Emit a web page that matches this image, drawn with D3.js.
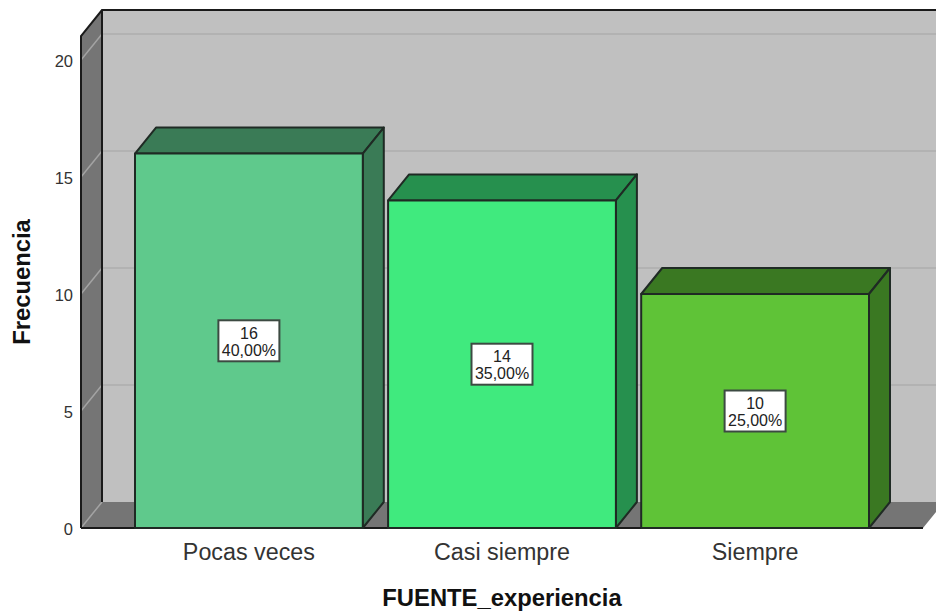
<!DOCTYPE html>
<html>
<head>
<meta charset="utf-8">
<script src="https://cdn.jsdelivr.net/npm/d3@7"></script>
<style>
  html, body { margin: 0; padding: 0; background: #fff; }
  svg { display: block; }
  text { font-family: "Liberation Sans", Arial, sans-serif; }
</style>
</head>
<body>
<script>
const categories = ["Pocas veces", "Casi siempre", "Siempre"];
const counts = [16, 14, 10];
const percents = ["40,00%", "35,00%", "25,00%"];
const frontColors = ["#5fc98c", "#40ea7e", "#5fc337"];
const shadeColors = ["#3a7b56", "#26904e", "#3a7822"];
const yTicks = [0, 5, 10, 15, 20];

const width = 936;
const height = 612;
const depthX = 21;
const depthY = 26;

const svg = d3.select("body").append("svg").attr("width", width).attr("height", height);

const x = d3.scaleBand().domain(categories).range([135, 869]).paddingInner(0.1);
const y = d3.scaleLinear().domain([0, 20]).range([528, 60]);

const plotLeft = 81;
const plotRight = 923;
const plotTop = 36;
const plotBottom = y(0);

const poly = (points) => points.map((p) => p.join(",")).join(" ");

// Walls ///////////////////////////////////////////////////////////////////

const walls = svg.append("g");

walls.append("rect")
  .attr("x", plotLeft + depthX)
  .attr("y", plotTop - depthY)
  .attr("width", plotRight - plotLeft)
  .attr("height", plotBottom - plotTop)
  .attr("fill", "#c0c0c0");

walls.append("polygon")
  .attr("points", poly([
    [plotLeft, plotTop],
    [plotLeft + depthX, plotTop - depthY],
    [plotLeft + depthX, plotBottom - depthY],
    [plotLeft, plotBottom],
  ]))
  .attr("fill", "#757575");

walls.append("polygon")
  .attr("points", poly([
    [plotLeft, plotBottom],
    [plotLeft + depthX, plotBottom - depthY],
    [plotRight + depthX, plotBottom - depthY],
    [plotRight, plotBottom],
  ]))
  .attr("fill", "#757575");

// Grid ////////////////////////////////////////////////////////////////////

const grid = svg.append("g");

grid.selectAll("line.back")
  .data(yTicks.filter((d) => d > 0))
  .join("line")
  .attr("class", "back")
  .attr("x1", plotLeft + depthX)
  .attr("x2", plotRight + depthX)
  .attr("y1", (d) => y(d) - depthY)
  .attr("y2", (d) => y(d) - depthY)
  .attr("stroke", "#b2b2b2")
  .attr("stroke-width", 2);

grid.selectAll("line.side")
  .data(yTicks)
  .join("line")
  .attr("class", "side")
  .attr("x1", plotLeft)
  .attr("x2", plotLeft + depthX)
  .attr("y1", (d) => y(d))
  .attr("y2", (d) => y(d) - depthY)
  .attr("stroke", "#a3a3a3")
  .attr("stroke-width", 1.5);

// Frame ///////////////////////////////////////////////////////////////////

const frame = svg.append("g")
  .attr("fill", "none")
  .attr("stroke", "#1a1a1a")
  .attr("stroke-width", 2);

frame.append("polyline")
  .attr("points", poly([
    [plotLeft, plotBottom],
    [plotLeft, plotTop],
    [plotLeft + depthX, plotTop - depthY],
    [plotRight + depthX, plotTop - depthY],
  ]));

frame.append("line")
  .attr("x1", plotLeft + depthX)
  .attr("x2", plotLeft + depthX)
  .attr("y1", plotTop - depthY)
  .attr("y2", plotBottom - depthY);

frame.append("line")
  .attr("x1", plotLeft)
  .attr("x2", plotRight)
  .attr("y1", plotBottom)
  .attr("y2", plotBottom);

// Bars ////////////////////////////////////////////////////////////////////

const bars = svg.append("g")
  .selectAll("g")
  .data(categories)
  .join("g")
  .attr("stroke", "#1f2a24")
  .attr("stroke-width", 2)
  .attr("stroke-linejoin", "round");

bars.append("polygon")
  .attr("fill", (_, i) => shadeColors[i])
  .attr("points", (d, i) => {
    const left = x(d);
    const right = left + x.bandwidth();
    const top = y(counts[i]);
    return poly([
      [left, top],
      [left + depthX, top - depthY],
      [right + depthX, top - depthY],
      [right, top],
    ]);
  });

bars.append("polygon")
  .attr("fill", (_, i) => shadeColors[i])
  .attr("points", (d, i) => {
    const right = x(d) + x.bandwidth();
    const top = y(counts[i]);
    return poly([
      [right, top],
      [right + depthX, top - depthY],
      [right + depthX, plotBottom - depthY],
      [right, plotBottom],
    ]);
  });

bars.append("rect")
  .attr("fill", (_, i) => frontColors[i])
  .attr("x", (d) => x(d))
  .attr("y", (_, i) => y(counts[i]))
  .attr("width", x.bandwidth())
  .attr("height", (_, i) => plotBottom - y(counts[i]));

// Value labels ////////////////////////////////////////////////////////////

const labels = svg.append("g")
  .selectAll("g")
  .data(categories)
  .join("g")
  .attr("transform", (d, i) =>
    `translate(${x(d) + x.bandwidth() / 2}, ${y(counts[i] / 2)})`);

labels.append("rect")
  .attr("x", -30.5)
  .attr("y", -20.5)
  .attr("width", 61)
  .attr("height", 41)
  .attr("fill", "#fff")
  .attr("stroke", "#3c4a42")
  .attr("stroke-width", 2);

labels.append("text")
  .text((_, i) => counts[i])
  .attr("text-anchor", "middle")
  .attr("y", -2)
  .attr("font-size", 16)
  .attr("fill", "#222");

labels.append("text")
  .text((_, i) => percents[i])
  .attr("text-anchor", "middle")
  .attr("y", 15)
  .attr("font-size", 16)
  .attr("fill", "#222");

// Axes ////////////////////////////////////////////////////////////////////

const yAxis = svg.append("g")
  .attr("transform", `translate(${plotLeft}, 1)`)
  .call(d3.axisLeft(y).tickValues(yTicks).tickSize(0).tickPadding(8));
yAxis.select(".domain").remove();
yAxis.selectAll("text")
  .attr("font-family", "Liberation Sans")
  .attr("font-size", 16.5)
  .attr("fill", "#333");

const xAxis = svg.append("g")
  .attr("transform", `translate(0, ${plotBottom})`)
  .call(d3.axisBottom(x).tickSize(0).tickPadding(15));
xAxis.select(".domain").remove();
xAxis.selectAll("text")
  .attr("font-family", "Liberation Sans")
  .attr("font-size", 23.3)
  .attr("fill", "#333");

// Title ///////////////////////////////////////////////////////////////////

svg.append("text")
  .text("FUENTE_experiencia")
  .attr("text-anchor", "middle")
  .attr("x", 502)
  .attr("y", 606)
  .attr("font-size", 23.8)
  .attr("font-weight", "bold")
  .attr("fill", "#111");

svg.append("text")
  .text("Frecuencia")
  .attr("text-anchor", "middle")
  .attr("transform", "translate(30, 282) rotate(-90)")
  .attr("font-size", 23.8)
  .attr("font-weight", "bold")
  .attr("fill", "#111");
</script>
</body>
</html>
